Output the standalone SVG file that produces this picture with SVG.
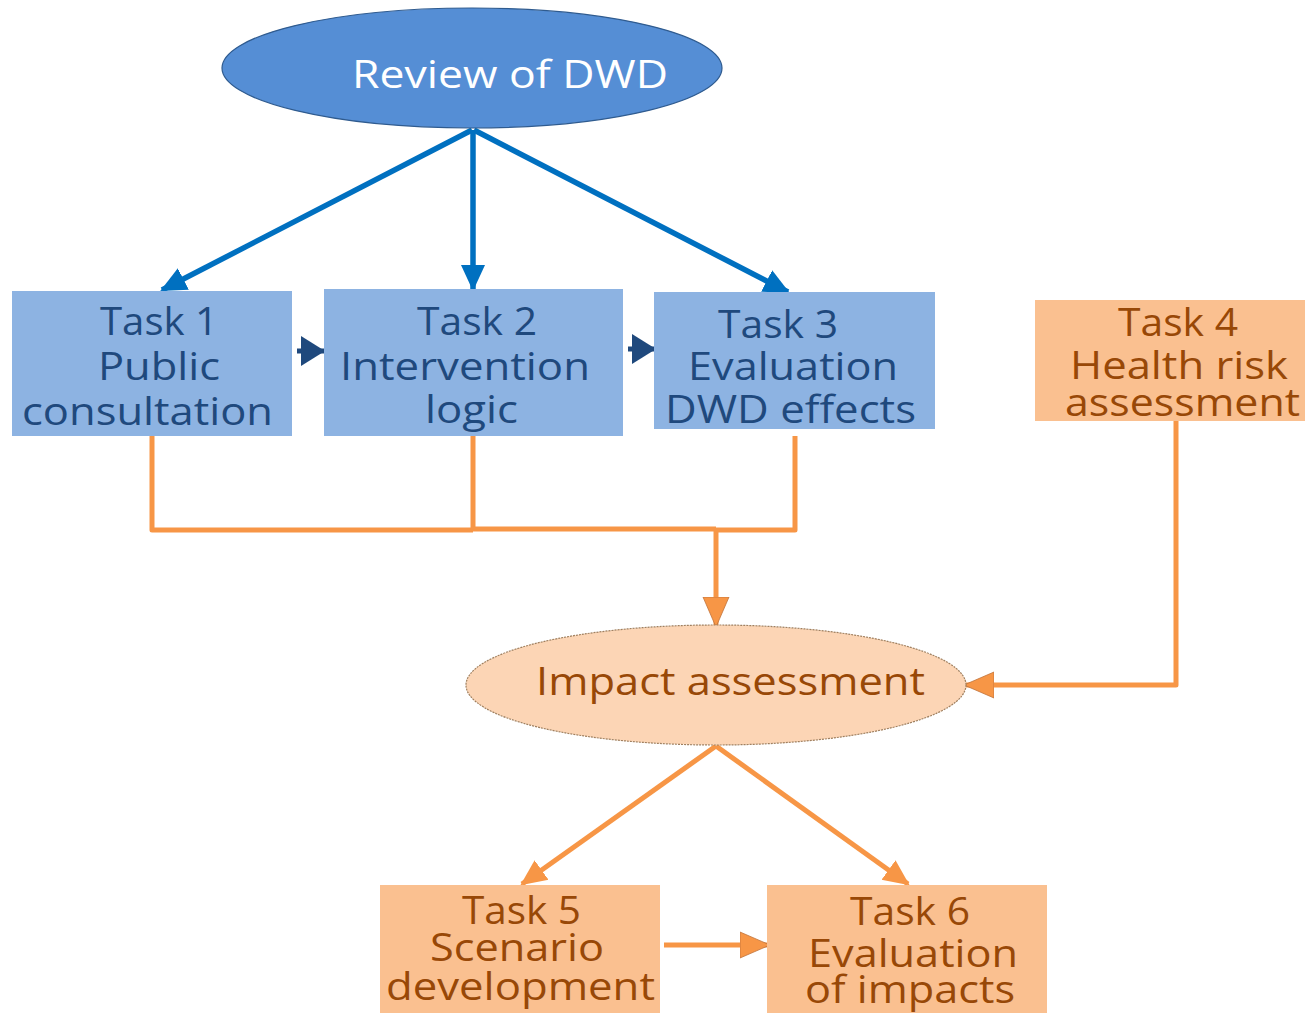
<svg xmlns="http://www.w3.org/2000/svg" width="1305" height="1013" viewBox="0 0 1305 1013">
<style>
text{font-family:"Open Sans","Noto Sans","Liberation Sans",sans-serif;font-size:38px;text-anchor:middle}
.wt{fill:#ffffff}
.bt{fill:#1f497d}
.ot{fill:#984807}
.bbox{fill:#8db3e2}
.obox{fill:#fac090}
.blue{stroke:#0070c0;stroke-width:5.5;fill:none}
.navy{stroke:#1f497d;stroke-width:5;fill:none}
.org{stroke:#f79646;stroke-width:5;fill:none;stroke-linejoin:round}
</style>
<defs>
<marker id="ab" markerUnits="userSpaceOnUse" markerWidth="26" markerHeight="26" viewBox="0 0 26 26" refX="24" refY="13" orient="auto">
<path d="M0,1 L26,13 L0,25 Z" fill="#0070c0"/>
</marker>
<marker id="an" markerUnits="userSpaceOnUse" markerWidth="24" markerHeight="30" viewBox="0 0 24 30" refX="24" refY="15" orient="auto">
<path d="M0,0 L24,15 L0,30 Z" fill="#1f497d"/>
</marker>
<marker id="ao" markerUnits="userSpaceOnUse" markerWidth="30" markerHeight="30" viewBox="0 0 30 30" refX="28" refY="15" orient="auto">
<path d="M0,2 L30,15 L0,28 Z" fill="#f79646" stroke="#c0723a" stroke-width="0.8"/>
</marker>
<marker id="ao2" markerUnits="userSpaceOnUse" markerWidth="26" markerHeight="26" viewBox="0 0 26 26" refX="24" refY="13" orient="auto">
<path d="M0,1 L26,13 L0,25 Z" fill="#f79646"/>
</marker>
</defs>

<g id="connectors">
<line class="blue" x1="472" y1="130" x2="162" y2="290" marker-end="url(#ab)"/>
<line class="blue" x1="473" y1="130" x2="473" y2="289" marker-end="url(#ab)"/>
<line class="blue" x1="474" y1="130" x2="788" y2="292" marker-end="url(#ab)"/>
<line class="navy" x1="297" y1="351" x2="325" y2="351" marker-end="url(#an)"/>
<line class="navy" x1="628" y1="349" x2="656" y2="349" marker-end="url(#an)"/>
<polyline class="org" points="152,436 152,530 473,530"/>
<polyline class="org" points="473,436 473,529 716,529"/>
<polyline class="org" points="795,436 795,530 716,530"/>
<line class="org" x1="716" y1="529" x2="716" y2="625" marker-end="url(#ao)"/>
<polyline class="org" points="1176,421 1176,685 966,685" marker-end="url(#ao)"/>
<line class="org" x1="716" y1="746" x2="522" y2="884" marker-end="url(#ao2)"/>
<line class="org" x1="716" y1="746" x2="908" y2="884" marker-end="url(#ao2)"/>
<line class="org" x1="664" y1="945" x2="768" y2="945" marker-end="url(#ao)"/>
</g>

<g id="review">
<ellipse cx="472" cy="68" rx="250" ry="60" fill="#558ed5" stroke="#2f5b8f" stroke-width="1.2"/>
<text class="wt" x="510" y="88" font-size="40" textLength="316" lengthAdjust="spacingAndGlyphs">Review of DWD</text>
</g>

<g id="task1">
<rect class="bbox" x="12" y="291" width="280" height="145"/>
<text class="bt" x="159" y="335" textLength="118" lengthAdjust="spacingAndGlyphs">Task 1</text>
<text class="bt" x="159" y="380" textLength="122" lengthAdjust="spacingAndGlyphs">Public</text>
<text class="bt" x="147.5" y="425" textLength="251" lengthAdjust="spacingAndGlyphs">consultation</text>
</g>

<g id="task2">
<rect class="bbox" x="324" y="289" width="299" height="147"/>
<text class="bt" x="477" y="335" textLength="120" lengthAdjust="spacingAndGlyphs">Task 2</text>
<text class="bt" x="465" y="380" textLength="250" lengthAdjust="spacingAndGlyphs">Intervention</text>
<text class="bt" x="471.5" y="423" textLength="93" lengthAdjust="spacingAndGlyphs">logic</text>
</g>

<g id="task3">
<rect class="bbox" x="654" y="292" width="281" height="137"/>
<text class="bt" x="778" y="338" textLength="120" lengthAdjust="spacingAndGlyphs">Task 3</text>
<text class="bt" x="793" y="380" textLength="210" lengthAdjust="spacingAndGlyphs">Evaluation</text>
<text class="bt" x="790.5" y="423" textLength="251" lengthAdjust="spacingAndGlyphs">DWD effects</text>
</g>

<g id="task4">
<rect class="obox" x="1035" y="300" width="270" height="121"/>
<text class="ot" x="1178" y="336" textLength="120" lengthAdjust="spacingAndGlyphs">Task 4</text>
<text class="ot" x="1179" y="379" textLength="218" lengthAdjust="spacingAndGlyphs">Health risk</text>
<text class="ot" x="1182.5" y="416" textLength="235" lengthAdjust="spacingAndGlyphs">assessment</text>
</g>

<g id="impact">
<ellipse cx="716" cy="685" rx="250" ry="60" fill="#fcd5b5" stroke="#a08060" stroke-width="1.2" stroke-dasharray="2 1"/>
<text class="ot" x="730.5" y="695" font-size="40" textLength="389" lengthAdjust="spacingAndGlyphs">Impact assessment</text>
</g>

<g id="task5">
<rect class="obox" x="380" y="885" width="280" height="128"/>
<text class="ot" x="521.5" y="924" textLength="119" lengthAdjust="spacingAndGlyphs">Task 5</text>
<text class="ot" x="517" y="961" textLength="174" lengthAdjust="spacingAndGlyphs">Scenario</text>
<text class="ot" x="520.5" y="1000" textLength="269" lengthAdjust="spacingAndGlyphs">development</text>
</g>

<g id="task6">
<rect class="obox" x="767" y="885" width="280" height="128"/>
<text class="ot" x="910" y="925" textLength="120" lengthAdjust="spacingAndGlyphs">Task 6</text>
<text class="ot" x="913" y="967" textLength="210" lengthAdjust="spacingAndGlyphs">Evaluation</text>
<text class="ot" x="910" y="1003" textLength="210" lengthAdjust="spacingAndGlyphs">of impacts</text>
</g>
</svg>
